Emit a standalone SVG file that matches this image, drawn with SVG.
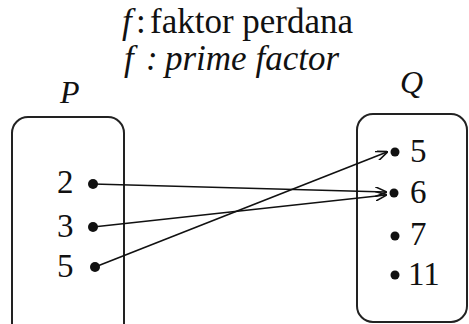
<svg xmlns="http://www.w3.org/2000/svg" width="469" height="324" viewBox="0 0 469 324">
<defs>
<style>
text{font-family:"Liberation Serif","Times New Roman",serif;fill:#111}
.t{font-size:35px}
.n{font-size:33px}
.lbl{font-size:32px;font-style:italic}
.box{fill:none;stroke:#222;stroke-width:2}
.dot{fill:#111}
.c{stroke:#111;stroke-width:1.6;fill:none;marker-end:url(#ah)}
</style>
<marker id="ah" viewBox="0 0 12 10" refX="11" refY="5" markerWidth="12" markerHeight="10" markerUnits="userSpaceOnUse" orient="auto">
<path d="M0,0 L12,5 L0,10" fill="none" stroke="#111" stroke-width="1.6"/>
</marker>
</defs>
<rect width="469" height="324" fill="#fff"/>
<g id="title">
<text class="t" y="33"><tspan x="122" font-style="italic">f</tspan><tspan x="136">:</tspan><tspan x="150">faktor perdana</tspan></text>
<text class="t" y="70" font-style="italic"><tspan x="124">f</tspan><tspan x="146">:</tspan><tspan x="165">prime factor</tspan></text>
</g>
<g id="P">
<text class="lbl" x="60" y="103">P</text>
<rect class="box" x="12" y="117" width="112" height="230" rx="16"/>
<text class="n" x="57" y="193">2</text>
<text class="n" x="57" y="237">3</text>
<text class="n" x="57" y="277">5</text>
<circle class="dot" cx="93" cy="184" r="5"/>
<circle class="dot" cx="93" cy="227" r="5"/>
<circle class="dot" cx="95" cy="267" r="5"/>
</g>
<g id="Q">
<text class="lbl" x="400" y="93">Q</text>
<rect class="box" x="357" y="114" width="110" height="208" rx="16"/>
<circle class="dot" cx="395" cy="152" r="4.5"/>
<circle class="dot" cx="394" cy="193" r="4.5"/>
<circle class="dot" cx="395" cy="236" r="4.5"/>
<circle class="dot" cx="395" cy="275" r="4.5"/>
<text class="n" x="410" y="162">5</text>
<text class="n" x="410" y="203">6</text>
<text class="n" x="410" y="245">7</text>
<text class="n" x="408" y="285">11</text>
</g>
<g id="connectors">
<line class="c" x1="93" y1="184" x2="386" y2="192"/>
<line class="c" x1="93" y1="227" x2="386" y2="195"/>
<line class="c" x1="95" y1="267" x2="387" y2="152"/>
</g>
</svg>
